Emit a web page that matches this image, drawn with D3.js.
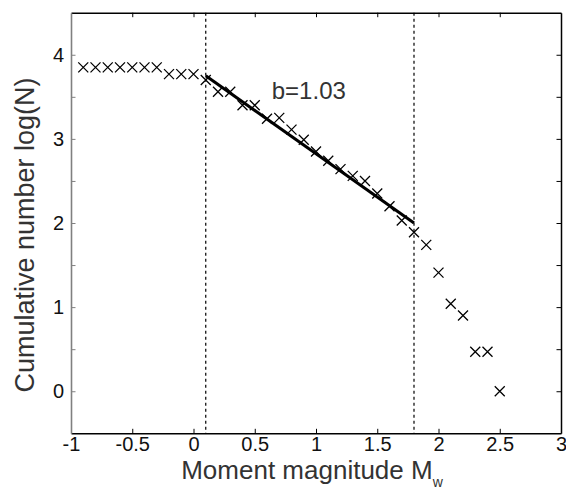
<!DOCTYPE html>
<html>
<head>
<meta charset="utf-8">
<script src="https://cdn.jsdelivr.net/npm/d3@7"></script>
<style>
  html, body { margin: 0; padding: 0; background: #fff; }
  svg { display: block; font-family: "Liberation Sans", Arial, Helvetica, sans-serif; }
</style>
</head>
<body>
<svg id="chart" width="566" height="493"></svg>
<script>
// ---- data ----
const magnitudes = [-0.9, -0.8, -0.7, -0.6, -0.5, -0.4, -0.3, -0.2, -0.1, 0.0,
  0.1, 0.2, 0.3, 0.4, 0.5, 0.6, 0.7, 0.8, 0.9, 1.0,
  1.1, 1.2, 1.3, 1.4, 1.5, 1.6, 1.7, 1.8, 1.9, 2.0,
  2.1, 2.2, 2.3, 2.4, 2.5];
const logN = [3.85, 3.85, 3.85, 3.85, 3.85, 3.85, 3.85, 3.77, 3.77, 3.77,
  3.70, 3.56, 3.56, 3.40, 3.40, 3.24, 3.25, 3.11, 2.99, 2.85,
  2.74, 2.64, 2.56, 2.50, 2.35, 2.20, 2.03, 1.89, 1.74, 1.41,
  1.04, 0.90, 0.47, 0.47, 0.00];
const fitX = [0.1, 1.8];
const fitY = [3.75, 2.0];
const boundaries = [0.1, 1.8];
const xTicks = [-1, -0.5, 0, 0.5, 1, 1.5, 2, 2.5, 3];
const xTickLabels = ["-1", "-0.5", "0", "0.5", "1", "1.5", "2", "2.5", "3"];
const yTicks = [-0.5, 0, 0.5, 1, 1.5, 2, 2.5, 3, 3.5, 4, 4.5];
const yTickLabels = ["", "0", "", "1", "", "2", "", "3", "", "4", ""];
const bLabel = "b=1.03";

// ---- layout ----
const svg = d3.select("#chart");
const L = 71, R = 561, T = 12.7, B = 433.3;
const x = d3.scaleLinear().domain([-1, 3]).range([L, R]);
const y = d3.scaleLinear().domain([-0.5, 4.5]).range([B, T]);
const tickLen = 4.5;

// axes (ticks inward)
const gBottom = svg.append("g").attr("transform", `translate(0,${B})`)
  .call(d3.axisBottom(x).tickValues(xTicks).tickSizeInner(-tickLen).tickSizeOuter(0)
    .tickFormat((d, i) => xTickLabels[i]).tickPadding(4));
const gTop = svg.append("g").attr("transform", `translate(0,${T})`)
  .call(d3.axisTop(x).tickValues(xTicks).tickSizeInner(-tickLen).tickSizeOuter(0).tickFormat(""));
const gLeft = svg.append("g").attr("transform", `translate(${L},0)`)
  .call(d3.axisLeft(y).tickValues(yTicks).tickSizeInner(-tickLen).tickSizeOuter(0)
    .tickFormat((d, i) => yTickLabels[i]).tickPadding(7));
const gRight = svg.append("g").attr("transform", `translate(${R},0)`)
  .call(d3.axisRight(y).tickValues(yTicks).tickSizeInner(-tickLen).tickSizeOuter(0).tickFormat(""));

[gBottom, gTop, gRight].forEach(g => {
  g.select(".domain").attr("stroke", "#000").attr("stroke-width", 1.5);
  g.selectAll(".tick line").attr("stroke", "#000").attr("stroke-width", 1);
});
gLeft.select(".domain").attr("stroke", "#808080").attr("stroke-width", 1.6);
gLeft.selectAll(".tick line").attr("stroke", "#808080").attr("stroke-width", 1);
// ticks at the very ends coincide with the spines
[gBottom, gTop].forEach(g => g.selectAll(".tick").filter(d => d === -1 || d === 3).select("line").remove());
[gLeft, gRight].forEach(g => g.selectAll(".tick").filter(d => d === -0.5 || d === 4.5).select("line").remove());

gBottom.selectAll(".tick text").attr("font-size", 20).attr("fill", "#111")
  .attr("font-family", "'Liberation Sans', Arial, sans-serif");
gLeft.selectAll(".tick text").attr("font-size", 20).attr("fill", "#111")
  .attr("font-family", "'Liberation Sans', Arial, sans-serif");

// boundary dashed lines
svg.append("g").selectAll("line").data(boundaries).join("line")
  .attr("x1", d => x(d)).attr("x2", d => x(d))
  .attr("y1", T).attr("y2", B)
  .attr("stroke", "#000").attr("stroke-width", 1.2).attr("stroke-dasharray", "3,3");

// fit line
const fitData = fitX.map((v, i) => [v, fitY[i]]);
svg.append("path").datum(fitData)
  .attr("d", d3.line().x(d => x(d[0])).y(d => y(d[1])))
  .attr("stroke", "#000").attr("stroke-width", 3).attr("fill", "none");

// x markers
const s = 5;
const pts = magnitudes.map((m, i) => [m, logN[i]]);
svg.append("g").selectAll("path").data(pts).join("path")
  .attr("d", d => {
    const cx = x(d[0]), cy = y(d[1]);
    return `M${cx - s},${cy - s}L${cx + s},${cy + s}M${cx - s},${cy + s}L${cx + s},${cy - s}`;
  })
  .attr("stroke", "#000").attr("stroke-width", 1.3).attr("fill", "none");

// b-value label
svg.append("text").attr("x", x(0.5) + 17).attr("y", y(4) + 44.5)
  .attr("font-size", 24).attr("fill", "#333").text(bLabel);

// axis titles
const xt = svg.append("text").attr("x", (L + R) / 2 - 4).attr("y", 479)
  .attr("text-anchor", "middle").attr("font-size", 26).attr("fill", "#333");
xt.append("tspan").text("Moment magnitude M");
xt.append("tspan").attr("font-size", 14).attr("dy", 8).text("w");

svg.append("text")
  .attr("transform", `translate(34,235) rotate(-90)`)
  .attr("text-anchor", "middle").attr("font-size", 27).attr("fill", "#333")
  .text("Cumulative number log(N)");
</script>
</body>
</html>
